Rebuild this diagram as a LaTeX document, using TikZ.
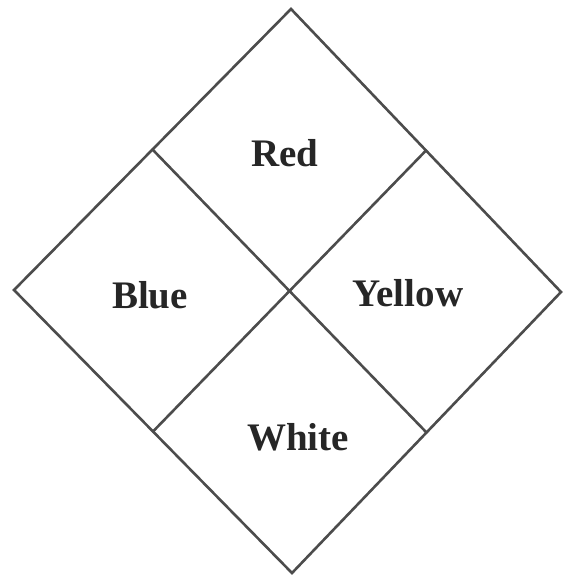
\documentclass[tikz,border=0pt]{standalone}
\usepackage{fontspec}
\setmainfont{Liberation Serif}
\usetikzlibrary{calc}
\begin{document}
\begin{tikzpicture}[x=1pt,y=-1pt,
  edge/.style={draw=black!70,line width=2.6pt,line cap=round,line join=miter},
  lbl/.style={font=\fontsize{39}{42}\selectfont\bfseries,text=black!85,inner sep=0pt}]
\useasboundingbox (0,0) rectangle (563,577);
\coordinate (T) at (291,9);
\coordinate (R) at (561,292);
\coordinate (B) at (292,573);
\coordinate (L) at (14,290);
\coordinate (UL) at ($(T)!0.5!(L)$);
\coordinate (UR) at ($(T)!0.5!(R)$);
\coordinate (LR) at ($(B)!0.5!(R)$);
\coordinate (LL) at ($(B)!0.5!(L)$);
\draw[edge] (T) -- (R) -- (B) -- (L) -- cycle;
\draw[edge] (UL) -- (LR);
\draw[edge] (UR) -- (LL);
\node[lbl] (red) at (285,153) {Red};
\node[lbl] (blue) at (150,295) {Blue};
\node[lbl] (yellow) at (408,293) {Yellow};
\node[lbl] (white) at (298,437) {White};
\end{tikzpicture}
\end{document}
